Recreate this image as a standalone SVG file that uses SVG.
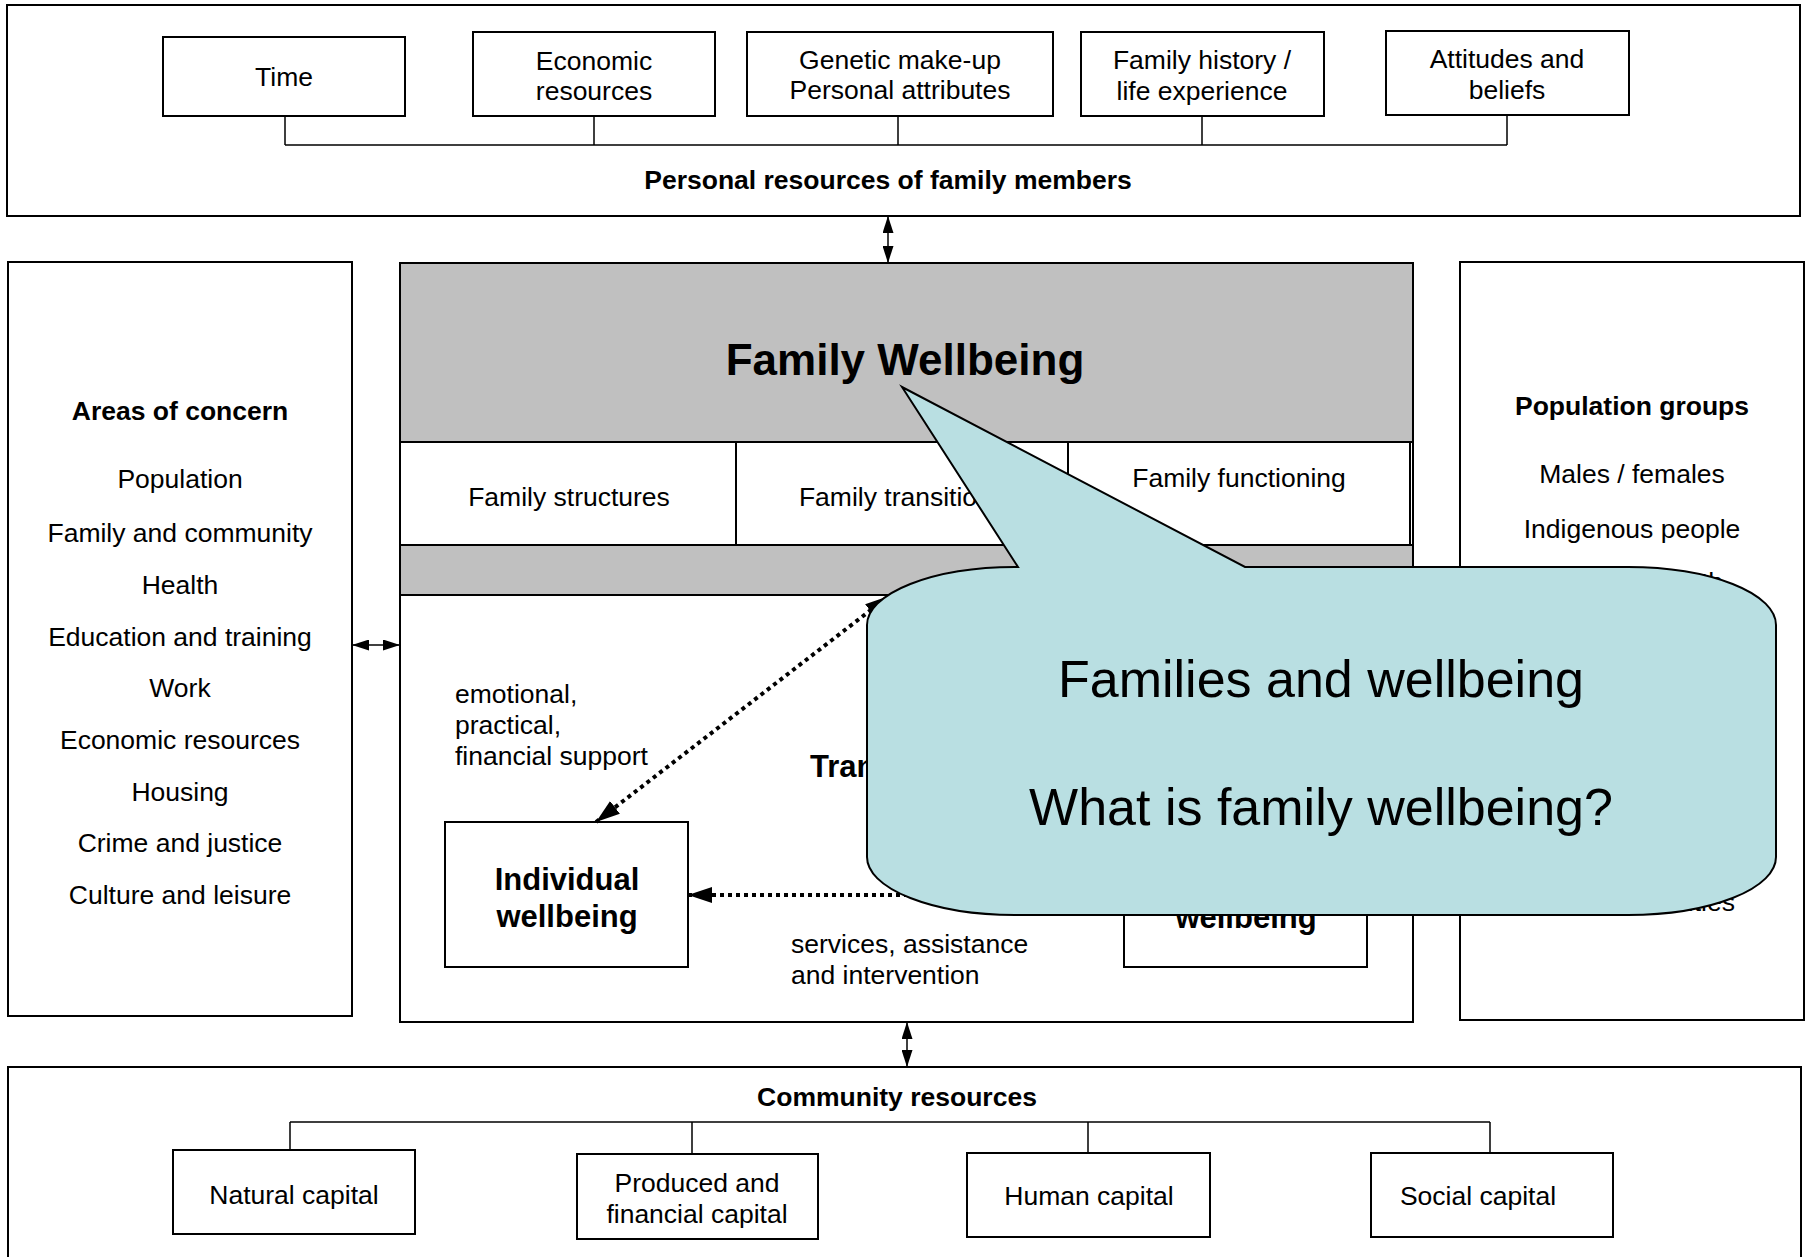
<svg xmlns="http://www.w3.org/2000/svg" width="1808" height="1257" viewBox="0 0 1808 1257">
<defs>
<style>
.box{fill:#fff;stroke:#000;stroke-width:2}
.gray{fill:#c0c0c0;stroke:#000;stroke-width:2}
.t{font-family:"Liberation Sans",Arial,Helvetica,sans-serif;font-size:26.5px;fill:#000;text-anchor:middle}
.b{font-weight:bold}
.ln{fill:none;stroke:#000;stroke-width:1.5}
.arr{fill:none;stroke:#000;stroke-width:1.5;marker-start:url(#ah);marker-end:url(#ah)}
.dot{fill:none;stroke:#000;stroke-width:4;stroke-dasharray:4 4}
</style>
<marker id="ah" viewBox="0 0 17 11" refX="17" refY="5.5" markerWidth="17" markerHeight="11" markerUnits="userSpaceOnUse" orient="auto-start-reverse"><path d="M0,0 L17,5.5 L0,11 z" fill="#000"/></marker>
<marker id="ahd" viewBox="0 0 24 16" refX="24" refY="8" markerWidth="24" markerHeight="16" markerUnits="userSpaceOnUse" orient="auto-start-reverse"><path d="M0,0 L24,8 L0,16 z" fill="#000"/></marker>
</defs>
<rect width="1808" height="1257" fill="#fff"/>

<g id="personal-resources">
<rect class="box" x="7" y="5" width="1793" height="211"/>
<text class="t b" x="888" y="189">Personal resources of family members</text>
</g>
<g id="time"><rect class="box" x="163" y="37" width="242" height="79"/><text class="t" x="284" y="86">Time</text></g>
<g id="economic-resources"><rect class="box" x="473" y="32" width="242" height="84"/><text class="t" x="594" y="70">Economic</text><text class="t" x="594" y="100">resources</text></g>
<g id="genetic"><rect class="box" x="747" y="32" width="306" height="84"/><text class="t" x="900" y="69">Genetic make-up</text><text class="t" x="900" y="99">Personal attributes</text></g>
<g id="family-history"><rect class="box" x="1081" y="32" width="243" height="84"/><text class="t" x="1202" y="69">Family history /</text><text class="t" x="1202" y="100">life experience</text></g>
<g id="attitudes"><rect class="box" x="1386" y="31" width="243" height="84"/><text class="t" x="1507" y="68">Attitudes and</text><text class="t" x="1507" y="99">beliefs</text></g>

<g id="areas-of-concern">
<rect class="box" x="8" y="262" width="344" height="754"/>
<text class="t b" x="180" y="420">Areas of concern</text>
<text class="t" x="180" y="488">Population</text>
<text class="t" x="180" y="542">Family and community</text>
<text class="t" x="180" y="594">Health</text>
<text class="t" x="180" y="646">Education and training</text>
<text class="t" x="180" y="697">Work</text>
<text class="t" x="180" y="749">Economic resources</text>
<text class="t" x="180" y="801">Housing</text>
<text class="t" x="180" y="852">Crime and justice</text>
<text class="t" x="180" y="904">Culture and leisure</text>
</g>

<g id="population-groups">
<rect class="box" x="1460" y="262" width="344" height="758"/>
<text class="t b" x="1632" y="415">Population groups</text>
<text class="t" x="1632" y="483">Males / females</text>
<text class="t" x="1632" y="538">Indigenous people</text>
<text class="t" x="1723" y="591" style="text-anchor:end">Children and youth</text>
<text class="t" x="1735" y="911" style="text-anchor:end">Ethnic minorities</text>
</g>

<g id="family-wellbeing">
<rect class="box" x="400" y="263" width="1013" height="759"/>
<rect class="gray" x="400" y="263" width="1013" height="179"/>
<rect class="gray" x="400" y="545" width="1013" height="50"/>
<text class="t b" x="905" y="375" style="font-size:44px">Family Wellbeing</text>
<text class="t b" x="810" y="777" style="font-size:31px;text-anchor:start">Transfers</text>
</g>
<g id="family-structures"><rect class="box" x="400" y="442" width="336" height="103"/><text class="t" x="569" y="506">Family structures</text></g>
<g id="family-transitions"><rect class="box" x="736" y="442" width="332" height="103"/><text class="t" x="902" y="506">Family transitions</text></g>
<g id="family-functioning"><rect class="box" x="1068" y="442" width="342" height="103"/><text class="t" x="1239" y="487">Family functioning</text></g>

<g id="individual-wellbeing"><rect class="box" x="445" y="822" width="243" height="145"/><text class="t b" x="567" y="890" style="font-size:31px">Individual</text><text class="t b" x="567" y="927" style="font-size:31px">wellbeing</text></g>
<g id="family-wellbeing-box"><rect class="box" x="1124" y="822" width="243" height="145"/><text class="t b" x="1246" y="890" style="font-size:31px">Family</text><text class="t b" x="1246" y="928" style="font-size:31px">wellbeing</text></g>

<g id="support-label"><text class="t" x="455" y="703" style="text-anchor:start">emotional,</text><text class="t" x="455" y="734" style="text-anchor:start">practical,</text><text class="t" x="455" y="765" style="text-anchor:start">financial support</text></g>
<g id="services-label"><text class="t" x="791" y="953" style="text-anchor:start">services, assistance</text><text class="t" x="791" y="984" style="text-anchor:start">and intervention</text></g>

<g id="community-resources">
<rect class="box" x="8" y="1067" width="1793" height="200"/>
<text class="t b" x="897" y="1106">Community resources</text>
</g>
<g id="natural-capital"><rect class="box" x="173" y="1150" width="242" height="84"/><text class="t" x="294" y="1204">Natural capital</text></g>
<g id="produced-capital"><rect class="box" x="577" y="1154" width="241" height="85"/><text class="t" x="697" y="1192">Produced and</text><text class="t" x="697" y="1223">financial capital</text></g>
<g id="human-capital"><rect class="box" x="967" y="1153" width="243" height="84"/><text class="t" x="1089" y="1205">Human capital</text></g>
<g id="social-capital"><rect class="box" x="1371" y="1153" width="242" height="84"/><text class="t" x="1478" y="1205">Social capital</text></g>

<g id="connectors">
<path class="ln" d="M285,116 V145 M594,116 V145 M898,116 V145 M1202,116 V145 M1507,115 V145 M285,145 H1507"/>
<path class="ln" d="M290,1122 H1490 M290,1122 V1150 M692,1122 V1154 M1088,1122 V1153 M1490,1122 V1153"/>
<line class="arr" x1="888" y1="216" x2="888" y2="263"/>
<line class="arr" x1="352" y1="645" x2="400" y2="645"/>
<line class="arr" x1="907" y1="1022" x2="907" y2="1067"/>
<line class="dot" x1="596" y1="822" x2="889" y2="596" marker-start="url(#ahd)" marker-end="url(#ahd)"/>
<line class="dot" x1="1124" y1="895" x2="688" y2="895" marker-end="url(#ahd)"/>
</g>

<g id="callout">
<path d="M1018,567 L902,387 L1245,567 L1628,567 A148,58 0 0 1 1776,625 L1776,857 A148,58 0 0 1 1628,915 L1015,915 A148,58 0 0 1 867,857 L867,625 A148,58 0 0 1 1015,567 Z" fill="#b9dfe2" stroke="#000" stroke-width="2"/>
<text class="t" x="1321" y="697" style="font-size:52px">Families and wellbeing</text>
<text class="t" x="1321" y="825" style="font-size:52px">What is family wellbeing?</text>
</g>
</svg>
